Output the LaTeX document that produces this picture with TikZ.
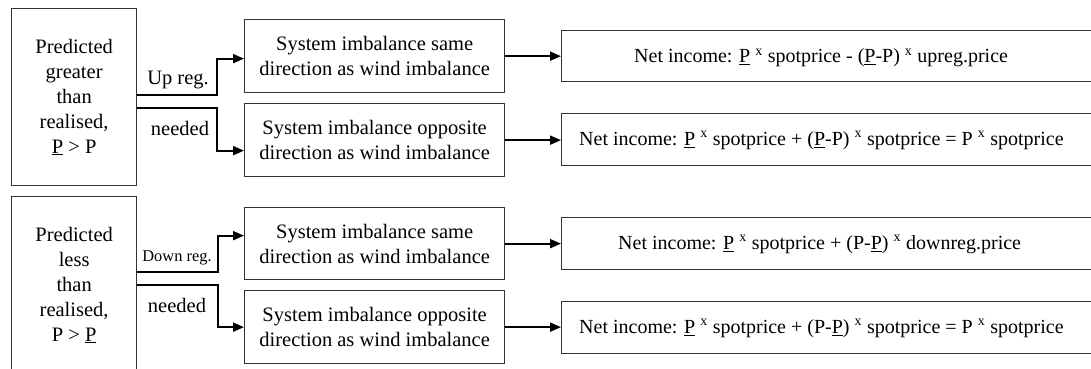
\documentclass[tikz,border=0pt]{standalone}
\usepackage{fontspec}
\setmainfont{Liberation Serif}
\usetikzlibrary{arrows.meta}
\tikzset{
  box/.style={draw=black!80, line width=1.3pt, inner sep=0pt, anchor=north west, align=center},
  conn/.style={line width=1.9pt, -{Triangle[length=11pt,width=9pt]}},
  lbl/.style={inner sep=0pt},
  txt/.style={inner sep=0pt, anchor=west, font=\fontsize{20}{24}\selectfont}
}
\newcommand{\mx}{\textsuperscript{x}}
\begin{document}
\begin{tikzpicture}[x=1pt,y=-1pt,font=\fontsize{20.5}{25}\selectfont]
\useasboundingbox (0,0) rectangle (1091,369);
\clip (0,0) rectangle (1091,369);
% left boxes
\node[box, minimum width=125pt, minimum height=177pt] (L1) at (11,8)
  {Predicted\\greater\\than\\realised,\\\underline{P} > P};
\node[box, minimum width=125pt, minimum height=177pt] (L2) at (11,196)
  {Predicted\\less\\than\\realised,\\P > \underline{P}};
% middle boxes
\node[box, minimum width=260pt, minimum height=73pt] (M1) at (244,19)
  {System imbalance same\\direction as wind imbalance};
\node[box, minimum width=260pt, minimum height=73pt] (M2) at (244,103)
  {System imbalance opposite\\direction as wind imbalance};
\node[box, minimum width=260pt, minimum height=72pt] (M3) at (244,207)
  {System imbalance same\\direction as wind imbalance};
\node[box, minimum width=260pt, minimum height=73pt] (M4) at (244,290)
  {System imbalance opposite\\direction as wind imbalance};
% right boxes
\node[box, minimum width=560pt, minimum height=51pt] (R1) at (561,30) {};
\node[box, minimum width=560pt, minimum height=52pt] (R2) at (561,113) {};
\node[box, minimum width=560pt, minimum height=52pt] (R3) at (561,217) {};
\node[box, minimum width=560pt, minimum height=52pt] (R4) at (561,301) {};
\node[txt] (T1) at ([xshift=73pt,yshift=-2pt]R1.west)
  {Net income: \underline{P} \mx{} spotprice - (\underline{P}-P) \mx{} upreg.price};
\node[txt] (T2) at ([xshift=18pt,yshift=-1pt]R2.west)
  {Net income: \underline{P} \mx{} spotprice + (\underline{P}-P) \mx{} spotprice = P \mx{} spotprice};
\node[txt] (T3) at ([xshift=57pt,yshift=-1pt]R3.west)
  {Net income: \underline{P} \mx{} spotprice + (P-\underline{P}) \mx{} downreg.price};
\node[txt] (T4) at ([xshift=18pt,yshift=-1pt]R4.west)
  {Net income: \underline{P} \mx{} spotprice + (P-\underline{P}) \mx{} spotprice = P \mx{} spotprice};
% labels
\node[lbl] (up) at (178,80) {Up reg.};
\node[lbl] (nd1) at (180,128) {needed};
\node[lbl, font=\fontsize{16.4}{20}\selectfont] (down) at (177,258) {Down reg.};
\node[lbl] (nd2) at (177,305) {needed};
% connectors
\draw[conn] ([yshift=2.5pt]L1.east) -- ++(80,0) |- ([yshift=-2.5pt]M1.west);
\draw[conn] ([yshift=-10.5pt]L1.east) -- ++(80,0) |- ([yshift=-10.5pt]M2.west);
\draw[conn] ([yshift=13.5pt]L2.east) -- ++(81,0) |- ([yshift=8pt]M3.west);
\draw[conn] ([yshift=0.5pt]L2.east) -- ++(81,0) |- (M4.west);
\draw[conn] (M1.east) -- (M1.east -| R1.west);
\draw[conn] (M2.east) -- (M2.east -| R2.west);
\draw[conn] (M3.east) -- (M3.east -| R3.west);
\draw[conn] (M4.east) -- (M4.east -| R4.west);
\end{tikzpicture}
\end{document}
